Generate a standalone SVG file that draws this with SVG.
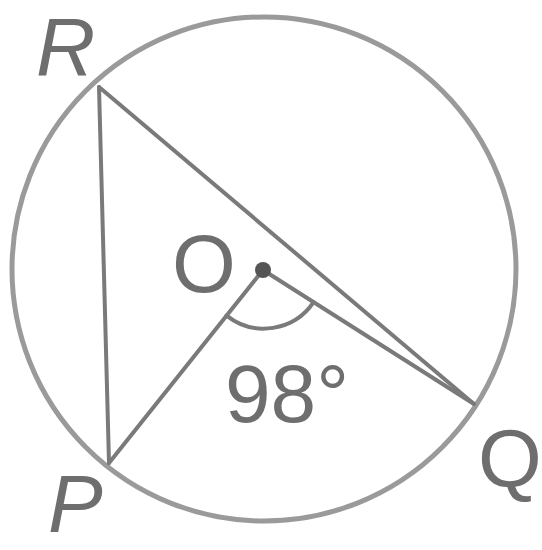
<svg xmlns="http://www.w3.org/2000/svg" width="542" height="550" viewBox="0 0 542 550">
<style>
.ln{stroke:#7a7a7a;stroke-width:4;fill:none;stroke-linecap:round}
.lbl{font-family:"Liberation Sans",Arial,sans-serif;fill:#6e6e6e;font-size:82px}
.it{font-style:italic}
</style>
<rect width="542" height="550" fill="#fff"/>
<circle id="circle" cx="264" cy="269" r="252" fill="none" stroke="#9a9a9a" stroke-width="5"/>
<g id="connectors">
<line class="ln" x1="99" y1="87" x2="109" y2="463"/>
<line class="ln" x1="99" y1="87" x2="474" y2="404"/>
<line class="ln" x1="263" y1="270" x2="109" y2="463"/>
<line class="ln" x1="263" y1="270" x2="474" y2="404"/>
<path class="ln" d="M226.6,315.6 A60,60 0 0 0 313.6,302.2"/>
</g>
<g id="O"><circle cx="263" cy="270" r="8" fill="#555"/><text class="lbl" x="172" y="292">O</text></g>
<g id="R"><text class="lbl it" x="36" y="75">R</text></g>
<g id="P"><text class="lbl it" x="48" y="532" font-size="74">P</text></g>
<g id="Q"><text class="lbl" x="478" y="487">Q</text></g>
<g id="angle"><text class="lbl" x="225" y="422" font-size="78">98°</text></g>
</svg>
